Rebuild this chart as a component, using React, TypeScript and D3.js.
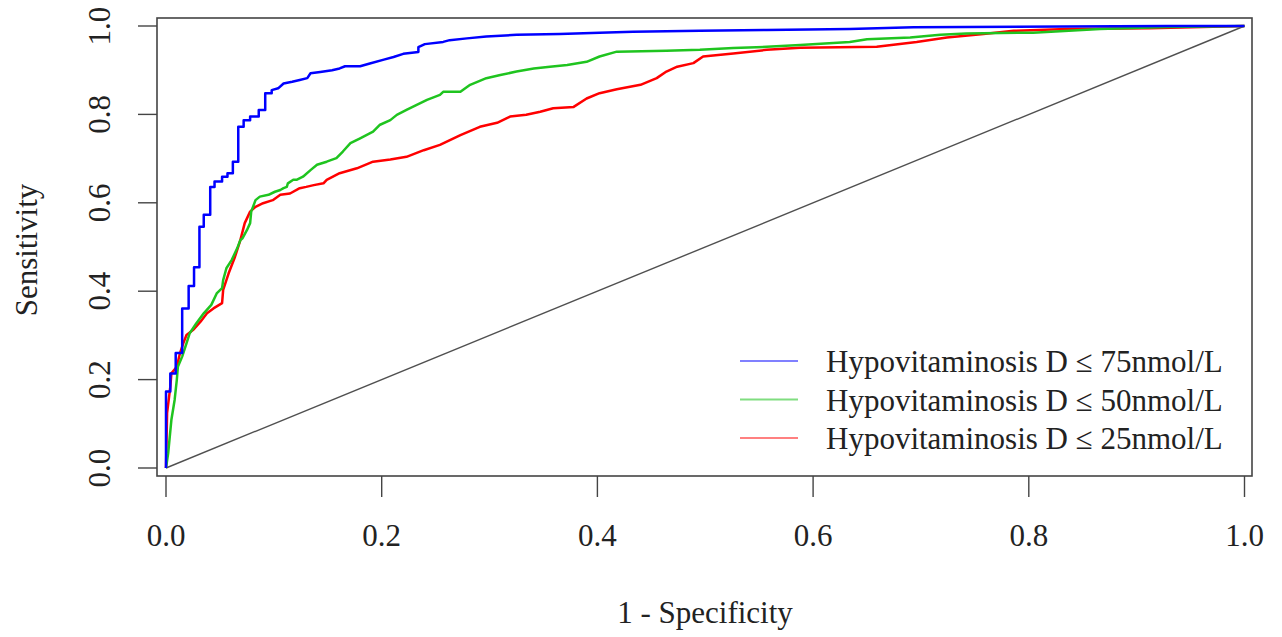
import React from "react";
import * as d3 from "d3";

const xTicks = [0, 0.2, 0.4, 0.6, 0.8, 1.0];
const yTicks = [0, 0.2, 0.4, 0.6, 0.8, 1.0];

const blue75: [number, number][] = [
  [0, 0], [0, 0.173], [0.004, 0.173], [0.004, 0.214], [0.009, 0.214], [0.009, 0.26], [0.015, 0.26], [0.015, 0.361],
  [0.021, 0.361], [0.021, 0.412], [0.026, 0.412], [0.026, 0.454], [0.031, 0.454], [0.031, 0.546], [0.035, 0.546],
  [0.035, 0.573], [0.041, 0.573], [0.041, 0.636], [0.045, 0.636], [0.045, 0.648], [0.052, 0.648], [0.052, 0.659],
  [0.057, 0.659], [0.057, 0.667], [0.062, 0.667], [0.062, 0.693], [0.067, 0.693], [0.067, 0.772], [0.072, 0.772],
  [0.072, 0.787], [0.078, 0.787], [0.078, 0.795], [0.086, 0.795], [0.086, 0.81], [0.092, 0.81], [0.092, 0.848],
  [0.098, 0.848], [0.098, 0.855], [0.104, 0.859], [0.109, 0.87], [0.117, 0.874], [0.124, 0.878], [0.131, 0.882],
  [0.134, 0.893], [0.143, 0.896], [0.154, 0.9], [0.161, 0.904], [0.166, 0.909], [0.18, 0.909], [0.189, 0.915],
  [0.202, 0.924], [0.211, 0.93], [0.22, 0.937], [0.234, 0.941], [0.234, 0.952], [0.24, 0.959], [0.257, 0.964],
  [0.263, 0.968], [0.279, 0.972], [0.297, 0.976], [0.325, 0.98], [0.365, 0.982], [0.402, 0.985], [0.433, 0.987],
  [0.495, 0.989], [0.557, 0.991], [0.634, 0.993], [0.693, 0.997], [0.928, 1.0], [1, 1],
];

const green50: [number, number][] = [
  [0, 0], [0.002, 0.033], [0.005, 0.109], [0.008, 0.154], [0.01, 0.199], [0.011, 0.229], [0.015, 0.252],
  [0.019, 0.282], [0.022, 0.305], [0.028, 0.327], [0.035, 0.35], [0.042, 0.369], [0.047, 0.395], [0.052, 0.407],
  [0.053, 0.425], [0.056, 0.452], [0.061, 0.471], [0.066, 0.497], [0.069, 0.516], [0.071, 0.52], [0.075, 0.538],
  [0.078, 0.554], [0.079, 0.58], [0.083, 0.606], [0.087, 0.614], [0.095, 0.618], [0.101, 0.625], [0.106, 0.629],
  [0.109, 0.633], [0.112, 0.636], [0.113, 0.644], [0.118, 0.652], [0.121, 0.652], [0.127, 0.659], [0.134, 0.674],
  [0.14, 0.686], [0.149, 0.693], [0.158, 0.701], [0.164, 0.716], [0.171, 0.735], [0.18, 0.746], [0.192, 0.761],
  [0.198, 0.776], [0.208, 0.787], [0.214, 0.799], [0.223, 0.81], [0.232, 0.821], [0.242, 0.833], [0.254, 0.844],
  [0.257, 0.851], [0.273, 0.851], [0.282, 0.867], [0.297, 0.882], [0.31, 0.889], [0.325, 0.897], [0.341, 0.904],
  [0.356, 0.908], [0.372, 0.912], [0.39, 0.919], [0.402, 0.931], [0.418, 0.942], [0.464, 0.944], [0.495, 0.946],
  [0.526, 0.95], [0.557, 0.953], [0.588, 0.957], [0.634, 0.964], [0.65, 0.97], [0.69, 0.974], [0.718, 0.98],
  [0.742, 0.983], [0.804, 0.985], [0.866, 0.993], [0.928, 0.998], [1, 1],
];

const red25: [number, number][] = [
  [0, 0], [0.001, 0.124], [0.004, 0.184], [0.005, 0.214], [0.01, 0.229], [0.013, 0.26], [0.016, 0.282],
  [0.019, 0.301], [0.025, 0.312], [0.032, 0.331], [0.038, 0.35], [0.044, 0.361], [0.052, 0.373], [0.053, 0.403],
  [0.058, 0.44], [0.064, 0.478], [0.069, 0.516], [0.073, 0.554], [0.078, 0.58], [0.083, 0.591], [0.09, 0.599],
  [0.099, 0.606], [0.106, 0.618], [0.115, 0.621], [0.124, 0.633], [0.13, 0.636], [0.137, 0.64], [0.146, 0.644],
  [0.149, 0.652], [0.161, 0.667], [0.177, 0.678], [0.192, 0.693], [0.208, 0.698], [0.223, 0.704], [0.239, 0.719],
  [0.254, 0.731], [0.273, 0.753], [0.291, 0.772], [0.307, 0.781], [0.319, 0.795], [0.334, 0.799], [0.347, 0.806],
  [0.359, 0.814], [0.378, 0.817], [0.39, 0.836], [0.402, 0.848], [0.418, 0.857], [0.44, 0.867], [0.455, 0.882],
  [0.464, 0.897], [0.474, 0.908], [0.489, 0.916], [0.498, 0.931], [0.526, 0.938], [0.557, 0.946], [0.588, 0.951],
  [0.659, 0.953], [0.696, 0.964], [0.724, 0.974], [0.758, 0.982], [0.786, 0.989], [0.835, 0.993], [0.912, 0.995],
  [1, 1],
];

const diagonal: [number, number][] = [[0, 0], [1, 1]];

const seriesNames = [
  "Hypovitaminosis D \u2264 75nmol/L",
  "Hypovitaminosis D \u2264 50nmol/L",
  "Hypovitaminosis D \u2264 25nmol/L",
];
const seriesColors = ["#0000ff", "#1fc41f", "#ff0000"];
const legendColors = ["#8080ff", "#80dd80", "#ff8080"];

export default function App() {
  const W = 1282, H = 637;
  const box = { l: 157, r: 1252, t: 18, b: 476 };
  const x = d3.scaleLinear().domain([0, 1]).range([166, 1244.5]);
  const y = d3.scaleLinear().domain([0, 1]).range([468, 26]);
  const line = d3.line<[number, number]>().x(d => x(d[0])).y(d => y(d[1])).curve(d3.curveLinear);
  const font = "'Liberation Serif', 'Times New Roman', serif";
  const fs = 31;
  const series = [blue75, green50, red25];
  const fmt = d3.format(".1f");
  return (
    <svg width={W} height={H} style={{ position: "absolute", left: 0, top: 0, background: "#fff" }} fontFamily={font}>
      <rect x={0} y={0} width={W} height={H} fill="#fff" />
      <path d={line(diagonal) || ""} stroke="#505050" strokeWidth={1.4} fill="none" />
      {series.map((s, i) => (
        <path key={i} d={line(s) || ""} stroke={seriesColors[i]} strokeWidth={2.5} fill="none" strokeLinejoin="round" />
      )).reverse()}
      <rect x={box.l} y={box.t} width={box.r - box.l} height={box.b - box.t} fill="none" stroke="#444" strokeWidth={1.6} />
      {xTicks.map(t => (
        <g key={"x" + t}>
          <line x1={x(t)} x2={x(t)} y1={box.b} y2={box.b + 21} stroke="#444" strokeWidth={1.4} />
          <text x={x(t)} y={546} textAnchor="middle" fontSize={fs} fill="#222">{fmt(t)}</text>
        </g>
      ))}
      {yTicks.map(t => (
        <g key={"y" + t}>
          <line x1={box.l - 19} x2={box.l} y1={y(t)} y2={y(t)} stroke="#444" strokeWidth={1.4} />
          <text transform={`translate(110,${y(t)}) rotate(-90)`} textAnchor="middle" fontSize={fs} fill="#222">{fmt(t)}</text>
        </g>
      ))}
      <text x={705} y={623} textAnchor="middle" fontSize={fs} fill="#222">1 - Specificity</text>
      <text transform={`translate(37,250) rotate(-90)`} textAnchor="middle" fontSize={fs} fill="#222">Sensitivity</text>
      {seriesNames.map((n, i) => (
        <g key={n}>
          <line x1={740} x2={798} y1={361 + i * 38.5} y2={361 + i * 38.5} stroke={legendColors[i]} strokeWidth={2} />
          <text x={826} y={361 + i * 38.5 + 11} fontSize={fs} fill="#222">{n}</text>
        </g>
      ))}
    </svg>
  );
}
